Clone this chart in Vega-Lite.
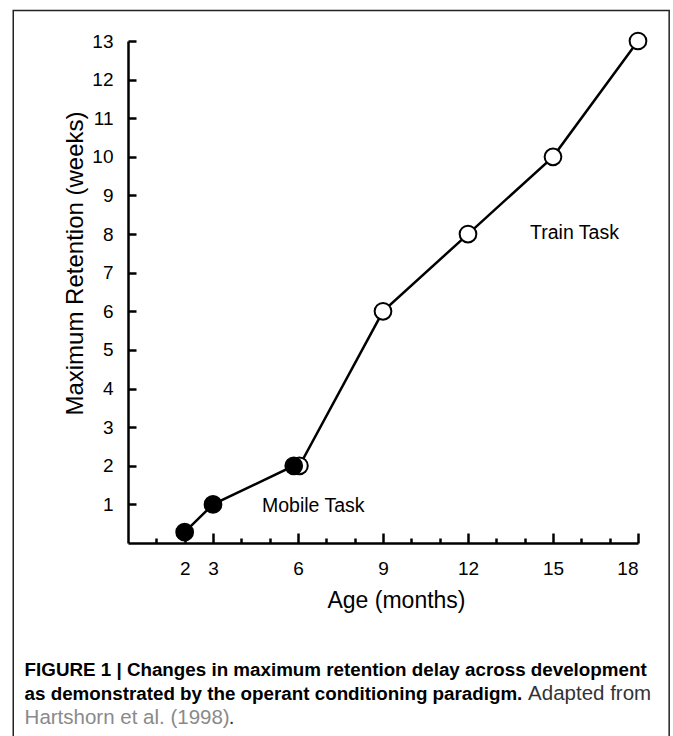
{
  "$schema": "https://vega.github.io/schema/vega-lite/v6.json",
  "width": 510,
  "height": 502,
  "autosize": "none",
  "padding": {"left": 128, "top": 41, "right": 35, "bottom": 193},
  "background": "white",
  "config": {
    "view": {"stroke": null},
    "font": "Liberation Sans",
    "axis": {"grid": false, "domainColor": "black", "tickColor": "black", "labelColor": "black", "titleColor": "black", "domainWidth": 2.5, "tickWidth": 2.5, "labelFont": "Liberation Sans", "titleFont": "Liberation Sans", "titleFontWeight": "normal", "labelOverlap": false}
  },
  "resolve": {"axis": {"x": "independent", "y": "independent"}},
  "datasets": {
    "points": [
      {"age": 6.05, "weeks": 2, "task": "Train"},
      {"age": 9, "weeks": 6, "task": "Train"},
      {"age": 12, "weeks": 8, "task": "Train"},
      {"age": 15, "weeks": 10, "task": "Train"},
      {"age": 18, "weeks": 13, "task": "Train"},
      {"age": 2, "weeks": 0.28, "task": "Mobile"},
      {"age": 3, "weeks": 1, "task": "Mobile"},
      {"age": 5.85, "weeks": 2, "task": "Mobile"}
    ],
    "labels": [
      {"label": "Mobile Task", "age": 4.73, "weeks": 0.95},
      {"label": "Train Task", "age": 14.19, "weeks": 8.02}
    ],
    "frame": [
      {"x1": -4.05, "x2": 19.1, "y1": 13.79, "y2": -6}
    ],
    "captionBold": [
      {"t": "FIGURE 1 | Changes in maximum retention delay across development", "age": -3.65, "weeks": -3.44},
      {"t": "as demonstrated by the operant conditioning paradigm.", "age": -3.65, "weeks": -4.07}
    ],
    "captionPlain": [
      {"t": "Adapted from", "age": 14.12, "weeks": -4.07},
      {"t": ".", "age": 3.56, "weeks": -4.69}
    ],
    "captionGrey": [
      {"t": "Hartshorn et al. (1998)", "age": -3.65, "weeks": -4.69}
    ]
  },
  "layer": [
    {
      "data": {"name": "points"},
      "mark": {"type": "line", "color": "black", "strokeWidth": 2.5},
      "encoding": {
        "x": {
          "field": "age", "type": "quantitative",
          "scale": {"domain": [0, 18], "nice": false, "zero": false},
          "axis": {
            "orient": "bottom",
            "values": [2, 3, 6, 9, 12, 15, 18],
            "ticks": false,
            "labelFontSize": 19,
            "labelPadding": 16,
            "title": "Age (months)",
            "titleFontSize": 23,
            "titleX": 268,
            "titleY": 64,
            "titleBaseline": "alphabetic"
          }
        },
        "y": {
          "field": "weeks", "type": "quantitative",
          "scale": {"domain": [0, 13], "nice": false, "zero": false},
          "axis": {
            "orient": "left",
            "values": [1,2,3,4,5,6,7,8,9,10,11,12,13],
            "ticks": false,
            "labelFontSize": 19,
            "labelPadding": 15,
            "title": "Maximum Retention (weeks)",
            "titleFontSize": 24,
            "titleX": -53,
            "titleY": 222,
            "titleBaseline": "middle",
            "titleAlign": "center",
            "titleAngle": -90
          }
        }
      }
    },
    {
      "data": {"name": "points"},
      "mark": {"type": "point", "filled": false, "stroke": "black", "strokeWidth": 2, "size": 280, "opacity": 1},
      "encoding": {
        "x": {
          "field": "age", "type": "quantitative",
          "axis": {"orient": "top", "offset": -502, "values": [2, 3, 6, 9, 12, 15, 18], "tickSize": 10, "labels": false, "domain": false, "title": null}
        },
        "y": {
          "field": "weeks", "type": "quantitative",
          "axis": {"orient": "right", "offset": -510, "values": [1,2,3,4,5,6,7,8,9,10,11,12,13], "tickSize": 8, "labels": false, "domain": false, "title": null}
        },
        "fill": {"field": "task", "type": "nominal", "scale": {"domain": ["Mobile", "Train"], "range": ["black", "white"]}, "legend": null}
      }
    },
    {
      "data": {"name": "labels"},
      "mark": {"type": "text", "align": "left", "baseline": "middle", "fontSize": 19.5, "font": "Liberation Sans", "color": "black"},
      "encoding": {
        "x": {
          "field": "age", "type": "quantitative",
          "axis": {"orient": "top", "offset": -502, "values": [1, 4, 5, 7, 8, 10, 11, 13, 14, 16, 17], "tickSize": 5, "labels": false, "domain": false, "title": null}
        },
        "y": {"field": "weeks", "type": "quantitative", "axis": null},
        "text": {"field": "label"}
      }
    },
    {
      "data": {"name": "captionBold"},
      "mark": {"type": "text", "align": "left", "baseline": "alphabetic", "fontSize": 18.8, "fontWeight": "bold", "font": "Liberation Sans", "color": "black", "clip": false},
      "encoding": {
        "x": {"field": "age", "type": "quantitative", "axis": null},
        "y": {"field": "weeks", "type": "quantitative", "axis": null},
        "text": {"field": "t"}
      }
    },
    {
      "data": {"name": "captionPlain"},
      "mark": {"type": "text", "align": "left", "baseline": "alphabetic", "fontSize": 20.5, "font": "Liberation Sans", "color": "#333", "clip": false},
      "encoding": {
        "x": {"field": "age", "type": "quantitative", "axis": null},
        "y": {"field": "weeks", "type": "quantitative", "axis": null},
        "text": {"field": "t"}
      }
    },
    {
      "data": {"name": "captionGrey"},
      "mark": {"type": "text", "align": "left", "baseline": "alphabetic", "fontSize": 20.5, "font": "Liberation Sans", "color": "#8a8a8a", "clip": false},
      "encoding": {
        "x": {"field": "age", "type": "quantitative", "axis": null},
        "y": {"field": "weeks", "type": "quantitative", "axis": null},
        "text": {"field": "t"}
      }
    },
    {
      "data": {"name": "frame"},
      "mark": {"type": "rect", "fill": null, "stroke": "#222", "strokeWidth": 1.5, "clip": false},
      "encoding": {
        "x": {"field": "x1", "type": "quantitative", "axis": null},
        "x2": {"field": "x2"},
        "y": {"field": "y1", "type": "quantitative", "axis": null},
        "y2": {"field": "y2"}
      }
    }
  ]
}
